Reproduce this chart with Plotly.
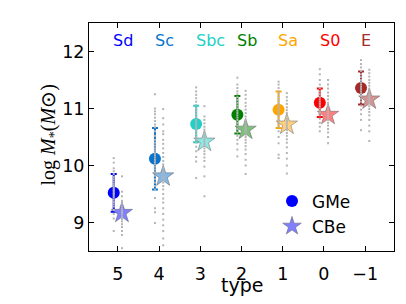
import plotly.graph_objects as go

types = [5, 4, 3, 2, 1, 0, -1]
type_names = ["Sd", "Sc", "Sbc", "Sb", "Sa", "S0", "E"]
colors = ["#0000ff", "#0a74cc", "#22d0c8", "#008000", "#ffa500", "#ff0000", "#a52a2a"]
star_colors = ["#8080ff", "#86b8e4", "#90e6e2", "#80bf80", "#ffd080", "#ff8080", "#d29494"]

gme_mean = [9.52, 10.12, 10.73, 10.89, 10.98, 11.10, 11.36]
gme_err = [0.33, 0.54, 0.32, 0.33, 0.32, 0.25, 0.29]
cbe_mean = [9.17, 9.81, 10.42, 10.63, 10.72, 10.89, 11.16]

gme_dots = [
    [10.13, 10.05, 9.95, 9.9, 9.85, 9.8, 9.76, 9.72, 9.68, 9.65, 9.62, 9.6, 9.57, 9.55, 9.52, 9.5, 9.47, 9.44, 9.4, 9.36, 9.32, 9.28, 9.22, 9.15, 9.07, 8.85],
    [11.25, 11.0, 10.95, 10.9, 10.84, 10.78, 10.72, 10.67, 10.6, 10.52, 10.45, 10.4, 10.35, 10.3, 10.26, 10.22, 10.18, 10.14, 10.1, 10.06, 10.02, 9.98, 9.93, 9.88, 9.82, 9.76, 9.7, 9.64, 9.58, 9.43, 9.25, 9.18, 8.99],
    [11.37, 11.3, 11.24, 11.18, 11.12, 11.06, 11.0, 10.95, 10.9, 10.85, 10.8, 10.76, 10.72, 10.68, 10.64, 10.6, 10.55, 10.5, 10.45, 10.4, 10.33, 10.25, 10.15, 10.07, 9.78],
    [11.54, 11.42, 11.36, 11.3, 11.25, 11.2, 11.15, 11.1, 11.05, 11.0, 10.96, 10.92, 10.88, 10.84, 10.8, 10.75, 10.7, 10.64, 10.58, 10.52, 10.45, 10.38, 10.28, 10.16],
    [11.47, 11.42, 11.36, 11.3, 11.25, 11.2, 11.15, 11.1, 11.06, 11.02, 10.98, 10.94, 10.9, 10.86, 10.8, 10.74, 10.68, 10.6, 10.5, 10.39, 10.19, 10.13],
    [11.69, 11.6, 11.5, 11.42, 11.36, 11.3, 11.25, 11.2, 11.16, 11.12, 11.08, 11.04, 11.0, 10.96, 10.92, 10.88, 10.82, 10.75, 10.68, 10.6],
    [11.85, 11.78, 11.72, 11.66, 11.6, 11.55, 11.5, 11.46, 11.42, 11.38, 11.34, 11.3, 11.26, 11.22, 11.17, 11.12, 11.05, 10.98, 10.9, 10.8, 10.62],
]
cbe_dots = [
    [9.81, 9.54, 9.46, 9.38, 9.33, 9.28, 9.24, 9.2, 9.17, 9.14, 9.1, 9.06, 9.02, 8.97, 8.92, 8.85, 8.78, 8.55],
    [10.99, 10.83, 10.72, 10.6, 10.55, 10.45, 10.38, 10.3, 10.22, 10.15, 10.08, 10.02, 9.96, 9.9, 9.85, 9.8, 9.75, 9.7, 9.64, 9.58, 9.5, 9.42, 9.35, 9.25, 9.15, 9.05, 8.95, 8.85, 8.72, 8.6],
    [11.04, 10.86, 10.8, 10.74, 10.68, 10.63, 10.58, 10.54, 10.5, 10.46, 10.42, 10.38, 10.34, 10.3, 10.25, 10.2, 10.14, 10.08, 9.98, 9.81, 9.46],
    [11.31, 11.24, 11.17, 11.1, 11.04, 10.98, 10.92, 10.86, 10.8, 10.75, 10.7, 10.66, 10.62, 10.58, 10.54, 10.5, 10.45, 10.4, 10.34, 10.28, 10.2, 10.1, 10.0, 9.85],
    [11.27, 11.2, 11.14, 11.08, 11.02, 10.97, 10.92, 10.87, 10.82, 10.78, 10.74, 10.7, 10.66, 10.62, 10.57, 10.52, 10.46, 10.4, 10.32, 10.22, 10.12, 10.0, 9.86],
    [11.5, 11.42, 11.35, 11.28, 11.22, 11.16, 11.1, 11.05, 11.0, 10.96, 10.92, 10.88, 10.84, 10.8, 10.75, 10.7, 10.64, 10.58, 10.5, 10.39],
    [11.68, 11.62, 11.56, 11.5, 11.45, 11.4, 11.35, 11.3, 11.25, 11.21, 11.17, 11.13, 11.09, 11.04, 10.99, 10.94, 10.88, 10.8, 10.7, 10.6, 10.43],
]

GME_OFF = 0.1
CBE_OFF = -0.1
LABEL_Y = 12.2

fig = go.Figure()

for i, t in enumerate(types):
    fig.add_trace(go.Scatter(
        x=[t + GME_OFF], y=[gme_mean[i]], mode="markers",
        marker=dict(symbol="circle", size=12, color=colors[i], line=dict(width=0)),
        error_y=dict(type="data", array=[gme_err[i]], color=colors[i], thickness=2, width=3),
        showlegend=False, hoverinfo="skip"))
    fig.add_trace(go.Scatter(
        x=[t + CBE_OFF], y=[cbe_mean[i]], mode="markers",
        marker=dict(symbol="star", size=16, color=star_colors[i],
                    line=dict(width=0.8, color="rgba(90,90,90,0.6)")),
        showlegend=False, hoverinfo="skip"))

for i, t in enumerate(types):
    fig.add_trace(go.Scatter(
        x=[t + GME_OFF] * len(gme_dots[i]), y=gme_dots[i], mode="markers",
        marker=dict(symbol="square", size=2, color="#b4b4b4"),
        showlegend=False, hoverinfo="skip"))
    fig.add_trace(go.Scatter(
        x=[t + CBE_OFF] * len(cbe_dots[i]), y=cbe_dots[i], mode="markers",
        marker=dict(symbol="square", size=2, color="#b4b4b4"),
        showlegend=False, hoverinfo="skip"))

fig.add_trace(go.Scatter(x=[None], y=[None], mode="markers", name="GMe",
                         marker=dict(symbol="circle", size=12, color="#0000ff")))
fig.add_trace(go.Scatter(x=[None], y=[None], mode="markers", name="CBe",
                         marker=dict(symbol="star", size=14, color="#8080ff",
                                     line=dict(width=0.8, color="rgba(90,90,90,0.6)"))))

for i, t in enumerate(types):
    fig.add_annotation(x=t + 0.155, y=LABEL_Y, text=type_names[i], showarrow=False,
                       xanchor="left", yanchor="middle",
                       font=dict(family="DejaVu Sans", size=16, color=colors[i]))

fig.add_annotation(xref="paper", yref="paper", x=-0.131, y=0.507,
                   text="log <i>M</i><sub>*</sub>(<i>M</i>⊙)", showarrow=False,
                   textangle=-90, xanchor="center", yanchor="middle",
                   font=dict(family="Liberation Serif", size=20, color="black"))
fig.add_annotation(xref="paper", yref="paper", x=0.5, y=-0.148,
                   text="type", showarrow=False, xanchor="center", yanchor="middle",
                   font=dict(family="DejaVu Sans", size=19, color="black"))

axis_common = dict(showline=True, linecolor="black", linewidth=1, mirror="allticks",
                   ticks="inside", ticklen=5, tickcolor="black", showgrid=False,
                   zeroline=False, tickfont=dict(family="DejaVu Sans", size=17.5, color="black"))

fig.update_layout(
    width=406, height=304,
    margin=dict(l=81, r=20, t=15, b=61),
    paper_bgcolor="white", plot_bgcolor="white",
    xaxis=dict(range=[5.7, -1.7], tickvals=types, ticklabelstandoff=7,
               ticktext=["5", "4", "3", "2", "1", "0", "−1"], **axis_common),
    yaxis=dict(range=[8.5, 12.5], tickvals=[9, 10, 11, 12], **axis_common),
    legend=dict(x=0.6, y=0.296, xanchor="left", yanchor="top",
                bgcolor="rgba(0,0,0,0)", font=dict(family="DejaVu Sans", size=17, color="black"),
                tracegroupgap=0),
)

fig.write_html("out.html")
